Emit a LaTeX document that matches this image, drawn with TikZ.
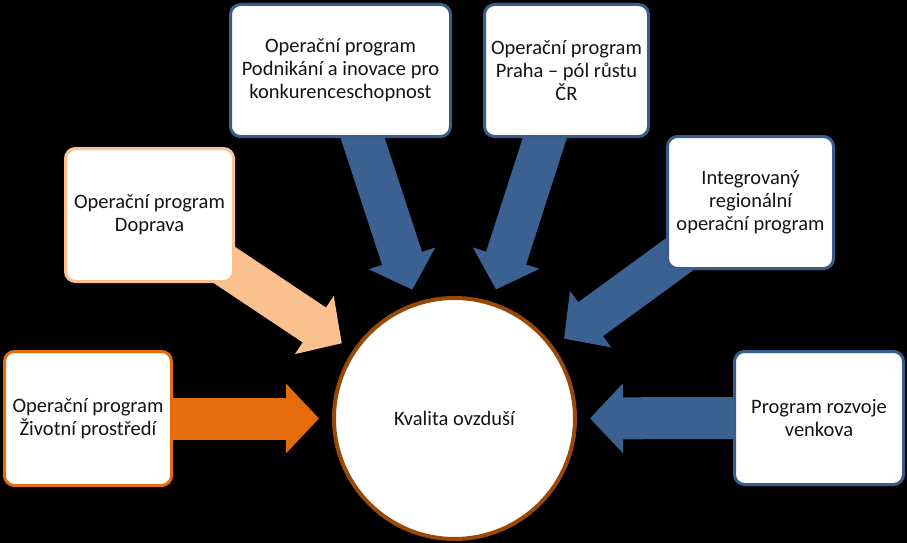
\documentclass[tikz,border=0pt]{standalone}
\usepackage{fontspec}
\setmainfont{Carlito}
\usepackage{tikz}
\usetikzlibrary{arrows.meta,positioning,calc}
\definecolor{zporange}{HTML}{E46C0A}
\definecolor{dopsand}{HTML}{FAC090}
\definecolor{opblue}{HTML}{385D8A}
\definecolor{flowblue}{HTML}{3A6192}
\definecolor{ring}{HTML}{984807}
\definecolor{ink}{HTML}{141414}
\pgfdeclarelayer{back}
\pgfsetlayers{back,main}
\tikzset{
  prog/.style={draw=#1,fill=white,line width=3pt,rounded corners=10pt,align=center,text=ink,inner sep=2pt},
  flow/.style={line width=42pt,color=#1,-{Triangle[width=68pt,length=33pt]},shorten >=13pt}
}

\begin{document}
\begin{tikzpicture}[font=\fontsize{20.5}{23}\selectfont,x=1pt,y=-1pt]
\useasboundingbox (0,0) rectangle (907,543);
\node[circle,draw=ring,fill=white,line width=4pt,minimum size=241pt,text=ink] (kval) at (454.5,418.5) {Kvalita ovzduší};
\node[prog=zporange,minimum width=167pt,minimum height=134pt] (zp) at (88,418.5) {Operační program\\Životní prostředí};
\node[prog=dopsand,minimum width=168pt,minimum height=133pt] (dop) at (149.5,215) {Operační program\\Doprava};
\node[prog=opblue,minimum width=220pt,minimum height=132pt] (pik) at (340.5,70.5) {Operační program\\Podnikání a inovace pro\\konkurenceschopnost};
\node[prog=opblue,minimum width=164pt,minimum height=132pt] (pra) at (566.5,70.5) {Operační program\\Praha -- pól růstu\\ČR};
\node[prog=opblue,minimum width=166pt,minimum height=132pt] (irop) at (750.5,202.5) {Integrovaný\\regionální\\operační program};
\node[prog=opblue,minimum width=169pt,minimum height=133pt] (prv) at (819,418) {Program rozvoje\\venkova};
% arrows go behind the boxes
\begin{pgfonlayer}{back}
  \fill[black] (0,0) rectangle (907,543);
  \foreach \src/\col in {zp/zporange,dop/dopsand,pik/flowblue,pra/flowblue,irop/flowblue,prv/flowblue}
    \draw[flow=\col] (\src.center) -- (kval);
\end{pgfonlayer}
\end{tikzpicture}
\end{document}
